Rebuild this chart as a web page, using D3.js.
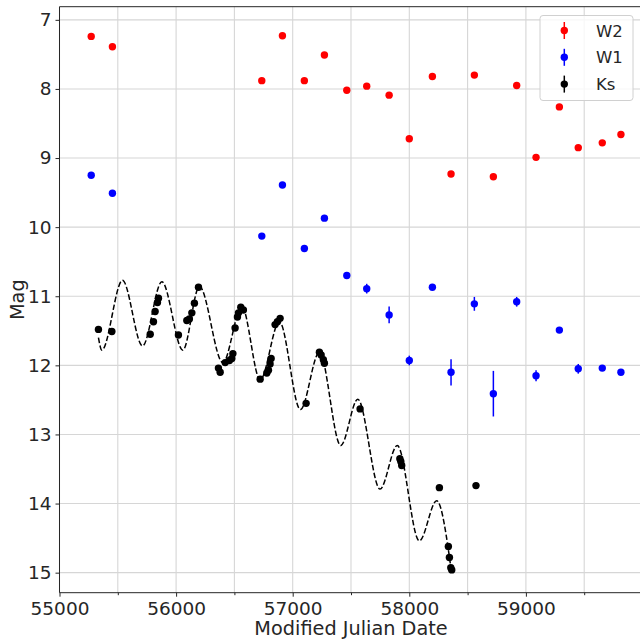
<!DOCTYPE html>
<html>
<head>
<meta charset="utf-8">
<script src="https://cdn.jsdelivr.net/npm/d3@7"></script>
<style>
  html, body { margin: 0; padding: 0; background: #fff; }
  svg { display: block; font-family: "DejaVu Sans", sans-serif; }
</style>
</head>
<body>
<svg id="chart" width="640" height="639"></svg>
<script>
// ---- data ----
const wiseDates = [55272, 55454, 56735, 56912, 57100, 57272, 57464, 57635, 57827, 58000,
                   58198, 58358, 58558, 58721, 58921, 59087, 59287, 59449, 59655, 59815];
const w2Mag = [7.24, 7.39, 7.88, 7.23, 7.88, 7.51, 8.02, 7.96, 8.09, 8.72,
               7.82, 9.23, 7.80, 9.27, 7.95, 8.99, 8.26, 8.85, 8.78, 8.66];
const w2Err = [0.02, 0.02, 0.02, 0.02, 0.02, 0.02, 0.02, 0.02, 0.02, 0.02,
               0.02, 0.02, 0.02, 0.02, 0.02, 0.02, 0.02, 0.02, 0.02, 0.02];
const w1Mag = [9.25, 9.51, 10.13, 9.39, 10.31, 9.87, 10.70, 10.89, 11.27, 11.93,
               10.87, 12.10, 11.11, 12.41, 11.08, 12.15, 11.49, 12.05, 12.04, 12.10];
const w1Err = [0.02, 0.02, 0.02, 0.02, 0.02, 0.02, 0.03, 0.07, 0.12, 0.07,
               0.03, 0.19, 0.10, 0.33, 0.07, 0.08, 0.03, 0.07, 0.03, 0.03];
const ksDates = [55334, 55449, 55778, 55806, 55820, 55840, 55849, 56020, 56092, 56114,
                 56135, 56157, 56192, 56363, 56378, 56421, 56457, 56478, 56487, 56506,
                 56526, 56535, 56555, 56577, 56721, 56778, 56792, 56806, 56815, 56849,
                 56869, 56892, 57115, 57229, 57244, 57263, 57272, 57578, 57919, 57927,
                 57935, 58258, 58335, 58344, 58356, 58364, 58572];
const ksMag = [11.48, 11.51, 11.55, 11.37, 11.22, 11.09, 11.03, 11.56, 11.35, 11.33,
               11.24, 11.10, 10.87, 12.04, 12.10, 11.96, 11.93, 11.90, 11.83, 11.46,
               11.30, 11.24, 11.16, 11.20, 12.20, 12.11, 12.07, 11.98, 11.90, 11.41,
               11.37, 11.32, 12.55, 11.81, 11.85, 11.92, 11.97, 12.63, 13.35, 13.39,
               13.45, 13.77, 14.62, 14.78, 14.93, 14.96, 13.74];
// model curve (dashed), nodes read at its turning points
const modelDates = [55334, 55363, 55540, 55712, 55878, 56058, 56200, 56401, 56564, 56721,
                    56886, 57066, 57229, 57412, 57558, 57749, 57897, 58086, 58235, 58362];
const modelMag = [11.60, 11.78, 10.77, 11.72, 10.79, 11.78, 10.86, 11.96, 11.15, 12.21,
                  11.37, 12.64, 11.81, 13.16, 12.49, 13.79, 13.16, 14.54, 13.96, 14.99];
const xTicks = [55000, 56000, 57000, 58000, 59000];
const xMinor = [55500, 56500, 57500, 58500, 59500];
const yTicks = [7, 8, 9, 10, 11, 12, 13, 14, 15];
const legendItems = [{label: "W2", color: "red"}, {label: "W1", color: "blue"}, {label: "Ks", color: "black"}];

// ---- layout ----
const svg = d3.select("#chart");
const L = 59.5, R = 642.5, T = 6.7, B = 592.7;
const x = d3.scaleLinear().domain([55000, 60000]).range([L, R]);
const y = d3.scaleLinear().domain([6.81, 15.29]).range([T, B]);
const textColor = "#262626";

// grid
const grid = svg.append("g");
grid.selectAll("line.v").data(xTicks.concat(xMinor)).join("line")
  .attr("x1", d => x(d)).attr("x2", d => x(d)).attr("y1", T).attr("y2", B)
  .attr("stroke", "#d6d6d6").attr("stroke-width", 1.1);
grid.selectAll("line.h").data(yTicks).join("line")
  .attr("x1", L).attr("x2", R).attr("y1", d => y(d)).attr("y2", d => y(d))
  .attr("stroke", "#d6d6d6").attr("stroke-width", 1.1);

// axes
const xAxis = svg.append("g").attr("transform", `translate(0,${B})`)
  .call(d3.axisBottom(x).tickValues(xTicks).tickFormat(d3.format("d")).tickSize(4).tickPadding(5));
const xAxisMinor = svg.append("g").attr("transform", `translate(0,${B})`)
  .call(d3.axisBottom(x).tickValues(xMinor).tickFormat("").tickSize(2.5));
const yAxis = svg.append("g").attr("transform", `translate(${L},0)`)
  .call(d3.axisLeft(y).tickValues(yTicks).tickSize(4).tickPadding(4));
[xAxis, xAxisMinor, yAxis].forEach(g => {
  g.select(".domain").remove();
  g.selectAll(".tick line").attr("stroke", textColor).attr("stroke-width", 1);
  g.selectAll(".tick text").attr("fill", textColor).style("font-size", "18.5px")
   .style("font-family", "DejaVu Sans");
});
// spines
svg.append("line").attr("x1", L).attr("x2", L).attr("y1", T).attr("y2", B).attr("stroke", textColor).attr("stroke-width", 1);
svg.append("line").attr("x1", L).attr("x2", R).attr("y1", B).attr("y2", B).attr("stroke", textColor).attr("stroke-width", 1);
svg.append("line").attr("x1", L).attr("x2", R).attr("y1", T).attr("y2", T).attr("stroke", textColor).attr("stroke-width", 1);

// axis labels
svg.append("text").attr("x", (L + R) / 2).attr("y", 635).attr("text-anchor", "middle")
  .attr("fill", textColor).style("font-size", "19.3px").text("Modified Julian Date");
svg.append("text").attr("transform", `translate(24,${(T + B) / 2}) rotate(-90)`)
  .attr("text-anchor", "middle").attr("fill", textColor).style("font-size", "19.3px").text("Mag");

// model curve
const modelPts = modelDates.map((d, i) => [d, modelMag[i]]);
svg.append("path").datum(modelPts)
  .attr("d", d3.line().x(d => x(d[0])).y(d => y(d[1])).curve(d3.curveMonotoneX))
  .attr("fill", "none").attr("stroke", "black").attr("stroke-width", 1.5)
  .attr("stroke-dasharray", "5.5,2.4");

// errorbar series
function series(dates, mags, errs, color) {
  const data = dates.map((d, i) => ({d, m: mags[i], e: errs ? errs[i] : 0}));
  const g = svg.append("g");
  g.selectAll("line").data(data).join("line")
    .attr("x1", p => x(p.d)).attr("x2", p => x(p.d))
    .attr("y1", p => y(p.m - p.e)).attr("y2", p => y(p.m + p.e))
    .attr("stroke", color).attr("stroke-width", 1.5);
  g.selectAll("circle").data(data).join("circle")
    .attr("cx", p => x(p.d)).attr("cy", p => y(p.m)).attr("r", 3.7).attr("fill", color);
}
series(wiseDates, w2Mag, w2Err, "red");
series(wiseDates, w1Mag, w1Err, "blue");
series(ksDates, ksMag, null, "black");

// legend
const lg = svg.append("g");
lg.append("rect").attr("x", 540).attr("y", 15.5).attr("width", 93).attr("height", 85).attr("rx", 3)
  .attr("fill", "white").attr("fill-opacity", 0.8).attr("stroke", "#d0d0d0").attr("stroke-width", 1);
legendItems.forEach((it, i) => {
  const cy = 30.5 + i * 26.8;
  lg.append("line").attr("x1", 564.3).attr("x2", 564.3).attr("y1", cy - 8.5).attr("y2", cy + 8.5)
    .attr("stroke", it.color).attr("stroke-width", 1.5);
  lg.append("circle").attr("cx", 564.3).attr("cy", cy).attr("r", 3.7).attr("fill", it.color);
  lg.append("text").attr("x", 596).attr("y", cy + 6).attr("fill", textColor)
    .style("font-size", "16.5px").text(it.label);
});
</script>
</body>
</html>
